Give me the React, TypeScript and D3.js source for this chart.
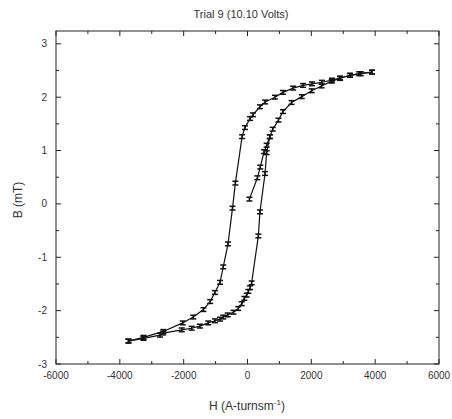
import React, { useEffect, useRef } from 'react';
import * as d3 from 'd3';

// initial magnetisation curve, then up to saturation
const initialH = [60, 310, 400, 520, 600, 700, 790, 970, 1110, 1380, 1700, 2010, 2320, 2640, 2900, 3210, 3550, 3900];
const initialB = [0.09, 0.49, 0.69, 0.98, 1.1, 1.26, 1.4, 1.57, 1.73, 1.9, 2.01, 2.12, 2.21, 2.3, 2.35, 2.41, 2.44, 2.47];

// descending branch (top right -> bottom left)
const downH = [3900, 3500, 3210, 2900, 2650, 2330, 2020, 1740, 1430, 1110, 860, 550, 390, 170, 80, -80, -170, -380, -470, -610, -760, -860, -1020, -1170, -1380, -1700, -2030, -2640, -3260, -3730];
const downB = [2.47, 2.44, 2.41, 2.36, 2.32, 2.28, 2.25, 2.22, 2.17, 2.09, 2.0, 1.91, 1.82, 1.67, 1.6, 1.43, 1.26, 0.39, -0.08, -0.75, -1.18, -1.47, -1.66, -1.83, -1.98, -2.12, -2.23, -2.39, -2.5, -2.57];

// ascending branch (bottom left -> back up)
const upH = [-3730, -3260, -2740, -2640, -2060, -1750, -1490, -1230, -1020, -860, -760, -620, -440, -290, -180, -100, -25, 25, 80, 130, 340, 390, 550, 600, 700];
const upB = [-2.57, -2.52, -2.46, -2.42, -2.36, -2.33, -2.29, -2.23, -2.19, -2.16, -2.12, -2.08, -2.03, -1.96, -1.87, -1.77, -1.71, -1.64, -1.57, -1.48, -0.6, -0.15, 0.57, 0.96, 1.26];

const xTicks = [-6000, -4000, -2000, 0, 2000, 4000, 6000];
const yTicks = [-3, -2, -1, 0, 1, 2, 3];
const errB = 0.035;

const App = () => {
    const ref = useRef<SVGSVGElement>(null);

    useEffect(() => {
        const W = 452, H = 419;
        const margin = { left: 56, right: 13, top: 31, bottom: 55 };
        const width = W - margin.left - margin.right;
        const height = H - margin.top - margin.bottom;

        const svg = d3.select(ref.current);
        svg.selectAll('*').remove();

        const g = svg.append('g')
            .attr('transform', `translate(${margin.left}, ${margin.top})`);

        const x = d3.scaleLinear().domain([-6000, 6000]).range([0, width]);
        const y = d3.scaleLinear().domain([-3, 3.24]).range([height, 0]);

        const font = 'Arial, "Liberation Sans", sans-serif';

        // frame
        g.append('rect')
            .attr('width', width).attr('height', height)
            .attr('fill', 'none').attr('stroke', '#222').attr('stroke-width', 1);

        // ticks, all pointing inward
        const xMinor = d3.range(-6000, 6001, 1000);
        const yMinor = d3.range(-3, 3.01, 0.5);
        const tickG = g.append('g').attr('stroke', '#222').attr('stroke-width', 1);
        xMinor.forEach(v => {
            const len = v % 2000 === 0 ? 5 : 3;
            tickG.append('line').attr('x1', x(v)).attr('x2', x(v)).attr('y1', height).attr('y2', height - len);
            tickG.append('line').attr('x1', x(v)).attr('x2', x(v)).attr('y1', 0).attr('y2', len);
        });
        yMinor.forEach(v => {
            const len = Math.abs(v % 1) < 1e-6 ? 5 : 3;
            tickG.append('line').attr('y1', y(v)).attr('y2', y(v)).attr('x1', 0).attr('x2', len);
            tickG.append('line').attr('y1', y(v)).attr('y2', y(v)).attr('x1', width).attr('x2', width - len);
        });

        // tick labels
        g.selectAll('.xl').data(xTicks).enter().append('text')
            .attr('x', d => x(d)).attr('y', height + 15)
            .attr('text-anchor', 'middle')
            .attr('font-family', font).attr('font-size', '10px').attr('fill', '#333')
            .text(d => d);
        g.selectAll('.yl').data(yTicks).enter().append('text')
            .attr('x', -9).attr('y', d => y(d) + 3.5)
            .attr('text-anchor', 'end')
            .attr('font-family', font).attr('font-size', '10px').attr('fill', '#333')
            .text(d => d);

        // title and axis labels
        svg.append('text')
            .attr('x', 241).attr('y', 18)
            .attr('text-anchor', 'middle')
            .attr('font-family', font).attr('font-size', '11px').attr('fill', '#333')
            .text('Trial 9 (10.10 Volts)');

        const xl = svg.append('text')
            .attr('x', 247).attr('y', 410)
            .attr('text-anchor', 'middle')
            .attr('font-family', font).attr('font-size', '12px').attr('fill', '#333');
        xl.append('tspan').text('H (A-turnsm');
        xl.append('tspan').attr('dy', -5).attr('font-size', '8px').text('-1');
        xl.append('tspan').attr('dy', 5).text(')');

        svg.append('text')
            .attr('transform', `translate(22, 200) rotate(-90)`)
            .attr('text-anchor', 'middle')
            .attr('font-family', font).attr('font-size', '12px').attr('fill', '#333')
            .text('B (mT)');

        // curves
        const line = d3.line<number[]>().x(d => x(d[0])).y(d => y(d[1]));
        const series = [
            initialH.map((h, i) => [h, initialB[i]]),
            downH.map((h, i) => [h, downB[i]]),
            upH.map((h, i) => [h, upB[i]]),
        ];

        series.forEach(pts => {
            g.append('path')
                .datum(pts)
                .attr('d', line)
                .attr('fill', 'none')
                .attr('stroke', '#111')
                .attr('stroke-width', 1.2);

            const bars = g.append('g').attr('stroke', '#111').attr('stroke-width', 1.5);
            pts.forEach(p => {
                const cx = x(p[0]);
                const y1 = y(p[1] - errB), y2 = y(p[1] + errB);
                bars.append('line').attr('x1', cx).attr('x2', cx).attr('y1', y1).attr('y2', y2);
                bars.append('line').attr('x1', cx - 3).attr('x2', cx + 3).attr('y1', y1).attr('y2', y1);
                bars.append('line').attr('x1', cx - 3).attr('x2', cx + 3).attr('y1', y2).attr('y2', y2);
            });
        });
    }, []);

    return (
        <svg ref={ref} width={452} height={419}
            style={{ position: 'absolute', left: 0, top: 0, background: '#fff' }} />
    );
};

export default App;
